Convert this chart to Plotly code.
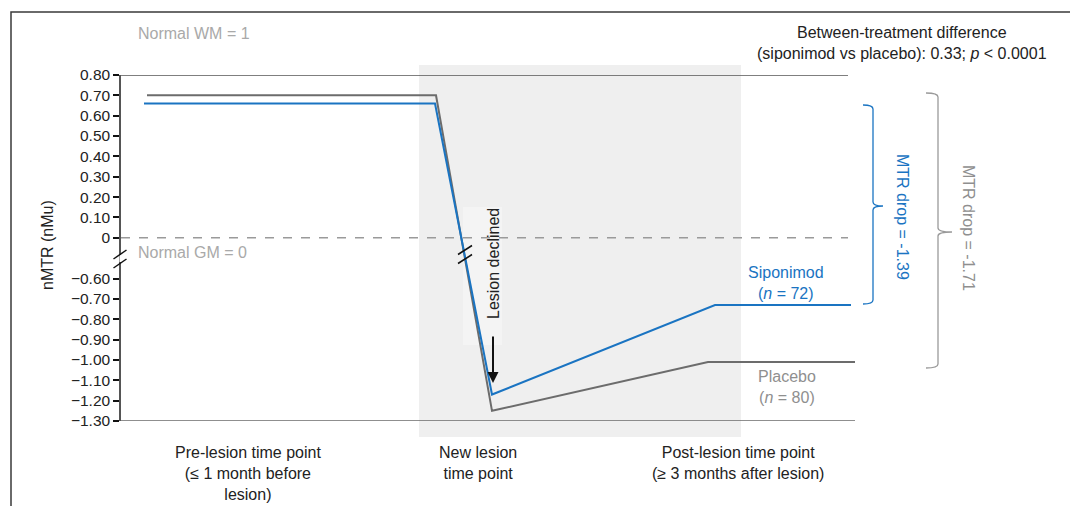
import plotly.graph_objects as go

# ---- data -------------------------------------------------------------
# x positions along the schematic time axis (arbitrary units)
placebo_x = [2.6, 31.5, 37.1, 58.7, 73.4]
siponimod_x = [2.3, 31.4, 37.1, 59.4, 73.0]

# nMTR values (nMu)
placebo_y = [0.70, 0.70, -1.25, -1.01, -1.01]
siponimod_y = [0.66, 0.66, -1.17, -0.73, -0.73]

upper_ticks = [0.80, 0.70, 0.60, 0.50, 0.40, 0.30, 0.20, 0.10, 0.0]
lower_ticks = [-0.60, -0.70, -0.80, -0.90, -1.00, -1.10, -1.20, -1.30]

category_labels = [
    "Pre-lesion time point<br>(\u2264 1 month before<br>lesion)",
    "New lesion<br>time point",
    "Post-lesion time point<br>(\u2265 3 months after lesion)",
]

# ---- broken y axis: values between -0.6 and 0 are collapsed ----------
BREAK_LOW, BREAK_HIGH, KEEP = -0.60, 0.0, 0.20
GAP = (BREAK_HIGH - BREAK_LOW) - KEEP


def to_axis(v):
    return v if v >= BREAK_HIGH else v + GAP


def fmt_tick(v):
    if v == 0:
        return "0"
    s = f"{abs(v):.2f}"
    return ("\u2212" + s) if v < 0 else s


tick_vals = [to_axis(v) for v in upper_ticks + lower_ticks]
tick_text = [fmt_tick(v) for v in upper_ticks + lower_ticks]

BLUE = "#1a74c2"
GRAY_LINE = "#6c6c6c"
GRAY_TEXT = "#8f8f8f"
LIGHT_TEXT = "#a9a9a9"
FONT = "Liberation Sans, Arial, Helvetica, sans-serif"

# plot area in page pixels (for placing annotations and decorations)
L, R, T, B = 121, 855, 75, 421


def px(x):
    return (x - L) / (R - L)


def py(y):
    return (B - y) / (B - T)


fig = go.Figure()

fig.add_trace(go.Scatter(
    x=placebo_x, y=[to_axis(v) for v in placebo_y], mode="lines",
    line=dict(color=GRAY_LINE, width=2), name="Placebo", showlegend=False,
    hoverinfo="skip",
))
fig.add_trace(go.Scatter(
    x=siponimod_x, y=[to_axis(v) for v in siponimod_y], mode="lines",
    line=dict(color=BLUE, width=2), name="Siponimod", showlegend=False,
    hoverinfo="skip",
))

shapes = []
# shaded band around the new-lesion time point
shapes.append(dict(type="rect", xref="x", yref="paper", x0=29.8, x1=62.0,
                   y0=py(437), y1=py(65), fillcolor="#efefef",
                   line=dict(width=0), layer="below"))
# light backing behind the "Lesion declined" label
shapes.append(dict(type="rect", xref="paper", yref="paper", x0=px(463), x1=px(502),
                   y0=py(345), y1=py(207), fillcolor="#f4f4f4",
                   line=dict(width=0), layer="below"))
# top reference line and bottom baseline
shapes.append(dict(type="line", xref="x", yref="y", x0=0, x1=72.7,
                   y0=to_axis(0.80), y1=to_axis(0.80),
                   line=dict(color="#555555", width=1.5)))
shapes.append(dict(type="line", xref="x", yref="y", x0=0, x1=73.4,
                   y0=to_axis(-1.30), y1=to_axis(-1.30),
                   line=dict(color="#6a6a6a", width=1.5)))
# dashed zero line
shapes.append(dict(type="line", xref="x", yref="y", x0=0, x1=72.7,
                   y0=0, y1=0, line=dict(color="#9a9a9a", width=1.5, dash="dash")))

# outer frame (left and top edges)
shapes.append(dict(type="path", xref="paper", yref="paper",
                   path=f"M {px(11)},{py(520)} L {px(11)},{py(12)} L {px(1080)},{py(12)}",
                   line=dict(color="#3a3a3a", width=1.5)))

# axis break: white gap in the spine plus two slashes
shapes.append(dict(type="line", xref="paper", yref="paper", x0=px(121), x1=px(121),
                   y0=py(255), y1=py(262), line=dict(color="white", width=3)))
for cy in (254.5, 263.5):
    shapes.append(dict(type="line", xref="paper", yref="paper",
                       x0=px(113.5), y0=py(cy + 4.5), x1=px(126.5), y1=py(cy - 4.5),
                       line=dict(color="#111111", width=1.5)))
# break slashes across the falling segment
for cy in (250.0, 259.0):
    shapes.append(dict(type="line", xref="paper", yref="paper",
                       x0=px(458), y0=py(cy + 4.5), x1=px(472), y1=py(cy - 4.5),
                       line=dict(color="#111111", width=1.5)))


def brace(x, y_top, y_bot, y_tip, tip, end, color):
    r = 4
    xs = [px(v) for v in (x, tip, end)]
    xv, xt, xe = xs
    yt, yb, ym = py(y_top), py(y_bot), py(y_tip)
    rr = r / (B - T)
    path = (f"M {xe},{yt} Q {xv},{yt} {xv},{yt - rr} "
            f"L {xv},{ym + rr} Q {xv},{ym} {xt},{ym} "
            f"Q {xv},{ym} {xv},{ym - rr} "
            f"L {xv},{yb + rr} Q {xv},{yb} {xe},{yb}")
    return dict(type="path", xref="paper", yref="paper", path=path,
                line=dict(color=color, width=1.3))


shapes.append(brace(873, 105, 304, 206, 883, 863, BLUE))
shapes.append(brace(938, 93, 368, 232, 952, 926, "#9a9a9a"))

annotations = []


def note(text, x, y, color="#222222", size=16, xanchor="center", yanchor="middle",
         angle=0, align="center", **kw):
    annotations.append(dict(text=text, xref="paper", yref="paper", x=px(x), y=py(y),
                            xanchor=xanchor, yanchor=yanchor, showarrow=False,
                            textangle=angle, align=align,
                            font=dict(family=FONT, size=size, color=color), **kw))


note("Normal WM = 1", 136, 34, color=LIGHT_TEXT, xanchor="left")
note("Normal GM = 0", 136, 252, color=LIGHT_TEXT, xanchor="left")
note("Between-treatment difference<br>(siponimod vs placebo): 0.33; <i>p</i> &lt; 0.0001",
     902, 43)
note("nMTR (nMu)", 47, 245, angle=-90)
note("Lesion declined", 493, 264, angle=-90)
note("Siponimod<br>(<i>n</i> = 72)", 786, 283, color=BLUE)
note("Placebo<br>(<i>n</i> = 80)", 787, 387, color=GRAY_TEXT)
note("MTR drop = -1.39", 903, 217, color=BLUE, angle=90)
note("MTR drop = -1.71", 969, 228, color=GRAY_TEXT, angle=90)

for label, cx in zip(category_labels, (248, 478, 738)):
    note(label, cx, 442, yanchor="top")

# arrow pointing at the lesion drop
annotations.append(dict(x=px(493), y=py(383), xref="paper", yref="paper",
                        ax=0, ay=-48, axref="pixel", ayref="pixel", text="",
                        showarrow=True, arrowhead=2, arrowsize=1.1, arrowwidth=2,
                        arrowcolor="#111111"))

fig.update_layout(
    width=1070, height=506,
    margin=dict(l=L, r=1070 - R, t=T, b=506 - B, pad=0),
    paper_bgcolor="white", plot_bgcolor="rgba(0,0,0,0)",
    font=dict(family=FONT, size=16, color="#222222"),
    shapes=shapes, annotations=annotations,
    xaxis=dict(range=[0, 73.4], visible=False, fixedrange=True),
    yaxis=dict(range=[to_axis(-1.30), to_axis(0.80)], tickmode="array",
               tickvals=tick_vals, ticktext=tick_text, ticks="outside",
               ticklen=6, tickwidth=1.5, tickcolor="#111111",
               showline=True, linecolor="#555555", linewidth=1.5,
               showgrid=False, zeroline=False,
               tickfont=dict(family=FONT, size=15.5, color="#222222")),
    showlegend=False,
)

fig.write_html("out.html")
